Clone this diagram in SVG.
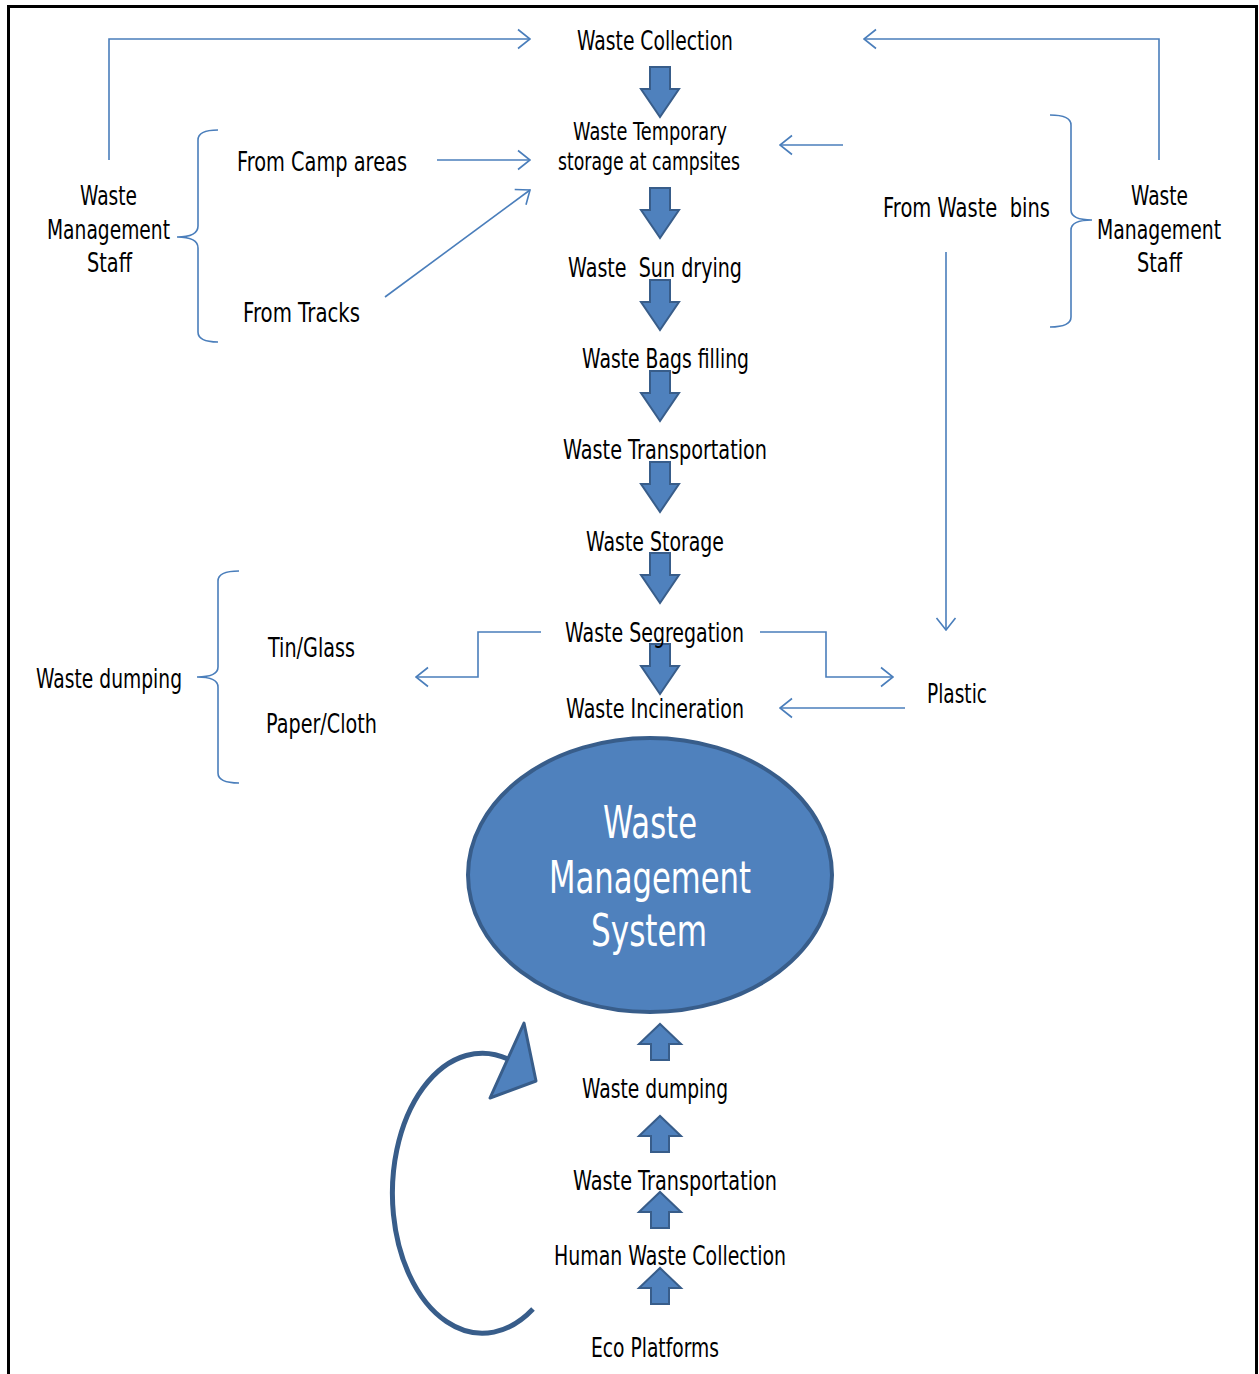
<svg xmlns="http://www.w3.org/2000/svg" width="1259" height="1374" viewBox="0 0 1259 1374">
<style>
text{font-family:"DejaVu Sans","Liberation Sans",sans-serif;fill:#000;}
.t{font-size:26px;}
.s{font-size:24px;}
.e{font-size:44px;fill:#fff;}
.c{fill:none;stroke:#4a7ebb;stroke-width:1.6;}
.ba{fill:#4f81bd;stroke:#385d8a;stroke-width:2;}
</style>
<defs>
<marker id="chev" viewBox="0 0 14 22" refX="13" refY="11" markerWidth="14" markerHeight="22" markerUnits="userSpaceOnUse" orient="auto">
<path d="M1,1.5 L13,11 L1,20.5" fill="none" stroke="#4a7ebb" stroke-width="1.6"/>
</marker>
<path id="down" d="M-10,0 H10 V22 H19 L0,50 L-19,22 H-10 Z"/>
<path id="up" d="M-9,36 H9 V20 H21 L0,0 L-21,20 H-9 Z"/>
</defs>
<rect x="8.5" y="6.5" width="1248" height="1400" fill="#fff" stroke="#000" stroke-width="3"/>

<g id="connectors">
<path class="c" d="M109,160 V39 H530" marker-end="url(#chev)"/>
<path class="c" d="M1159,160 V39 H864" marker-end="url(#chev)"/>
<path class="c" d="M437,160 H530" marker-end="url(#chev)"/>
<path class="c" d="M385,297 L530,190" marker-end="url(#chev)"/>
<path class="c" d="M843,145 H780" marker-end="url(#chev)"/>
<path class="c" d="M946,252 V630" marker-end="url(#chev)"/>
<path class="c" d="M760,632 H826 V677 H893" marker-end="url(#chev)"/>
<path class="c" d="M541,632 H478 V677 H416" marker-end="url(#chev)"/>
<path class="c" d="M905,708 H780" marker-end="url(#chev)"/>
<path class="c" d="M218,130 Q198,130 198,140 V226 Q198,237 177,237 Q198,237 198,248 V332 Q198,342 218,342"/>
<path class="c" d="M1050,115 Q1071,115 1071,125 V210 Q1071,220 1092,220 Q1071,220 1071,230 V317 Q1071,327 1050,327"/>
<path class="c" d="M239,571 Q218,571 218,581 V667 Q218,677 197,677 Q218,677 218,687 V773 Q218,783 239,783"/>
<use href="#down" class="ba" x="660" y="67"/>
<use href="#down" class="ba" x="660" y="188"/>
<use href="#down" class="ba" x="660" y="280"/>
<use href="#down" class="ba" x="660" y="371"/>
<use href="#down" class="ba" x="660" y="462"/>
<use href="#down" class="ba" x="660" y="553"/>
<use href="#down" class="ba" x="660" y="644"/>
<use href="#up" class="ba" x="660" y="1024"/>
<use href="#up" class="ba" x="660" y="1116"/>
<use href="#up" class="ba" x="660" y="1192"/>
<use href="#up" class="ba" x="660" y="1268"/>
<path d="M533,1309 A90,140 0 1 1 508,1059" fill="none" stroke="#385d8a" stroke-width="5"/>
<path d="M524,1023 L536,1081 L490,1098 Z" fill="#4f81bd" stroke="#385d8a" stroke-width="3" stroke-linejoin="round"/>
</g>

<g id="n-collection"><text class="t" x="577" y="50" textLength="156" lengthAdjust="spacingAndGlyphs">Waste Collection</text></g>
<g id="n-temporary"><text class="s" x="573" y="140" textLength="154" lengthAdjust="spacingAndGlyphs">Waste Temporary</text><text class="s" x="558" y="170" textLength="182" lengthAdjust="spacingAndGlyphs">storage at campsites</text></g>
<g id="n-sundrying"><text class="t" x="568" y="277" textLength="174" lengthAdjust="spacingAndGlyphs" xml:space="preserve">Waste  Sun drying</text></g>
<g id="n-bags"><text class="t" x="582" y="368" textLength="167" lengthAdjust="spacingAndGlyphs">Waste Bags filling</text></g>
<g id="n-transport"><text class="t" x="563" y="459" textLength="204" lengthAdjust="spacingAndGlyphs">Waste Transportation</text></g>
<g id="n-storage"><text class="t" x="586" y="551" textLength="138" lengthAdjust="spacingAndGlyphs">Waste Storage</text></g>
<g id="n-segregation"><text class="t" x="565" y="642" textLength="179" lengthAdjust="spacingAndGlyphs">Waste Segregation</text></g>
<g id="n-incineration"><text class="t" x="566" y="718" textLength="178" lengthAdjust="spacingAndGlyphs">Waste Incineration</text></g>
<g id="n-system">
<ellipse cx="650" cy="875" rx="182" ry="137" fill="#4f81bd" stroke="#385d8a" stroke-width="4"/>
<text class="e" x="603" y="838" textLength="94" lengthAdjust="spacingAndGlyphs">Waste</text>
<text class="e" x="549" y="893" textLength="202" lengthAdjust="spacingAndGlyphs">Management</text>
<text class="e" x="591" y="946" textLength="116" lengthAdjust="spacingAndGlyphs">System</text>
</g>
<g id="n-dumping2"><text class="t" x="582" y="1098" textLength="146" lengthAdjust="spacingAndGlyphs">Waste dumping</text></g>
<g id="n-transport2"><text class="t" x="573" y="1190" textLength="204" lengthAdjust="spacingAndGlyphs">Waste Transportation</text></g>
<g id="n-human"><text class="t" x="554" y="1265" textLength="232" lengthAdjust="spacingAndGlyphs">Human Waste Collection</text></g>
<g id="n-eco"><text class="t" x="591" y="1357" textLength="128" lengthAdjust="spacingAndGlyphs">Eco Platforms</text></g>
<g id="n-staff-left"><text class="t" x="80" y="205" textLength="57" lengthAdjust="spacingAndGlyphs">Waste</text><text class="t" x="47" y="239" textLength="123" lengthAdjust="spacingAndGlyphs">Management</text><text class="t" x="87" y="272" textLength="45" lengthAdjust="spacingAndGlyphs">Staff</text></g>
<g id="n-camp"><text class="t" x="237" y="171" textLength="170" lengthAdjust="spacingAndGlyphs">From Camp areas</text></g>
<g id="n-tracks"><text class="t" x="243" y="322" textLength="117" lengthAdjust="spacingAndGlyphs">From Tracks</text></g>
<g id="n-bins"><text class="t" x="883" y="217" textLength="167" lengthAdjust="spacingAndGlyphs" xml:space="preserve">From Waste  bins</text></g>
<g id="n-staff-right"><text class="t" x="1131" y="205" textLength="57" lengthAdjust="spacingAndGlyphs">Waste</text><text class="t" transform="translate(1097 239) scale(0.725 1)">Management</text><text class="t" x="1137" y="272" textLength="45" lengthAdjust="spacingAndGlyphs">Staff</text></g>
<g id="n-dumping1"><text class="t" x="36" y="688" textLength="146" lengthAdjust="spacingAndGlyphs">Waste dumping</text></g>
<g id="n-tin"><text class="t" x="268" y="657" textLength="87" lengthAdjust="spacingAndGlyphs">Tin/Glass</text></g>
<g id="n-paper"><text class="t" x="266" y="733" textLength="111" lengthAdjust="spacingAndGlyphs">Paper/Cloth</text></g>
<g id="n-plastic"><text class="t" x="927" y="703" textLength="60" lengthAdjust="spacingAndGlyphs">Plastic</text></g>
</svg>
